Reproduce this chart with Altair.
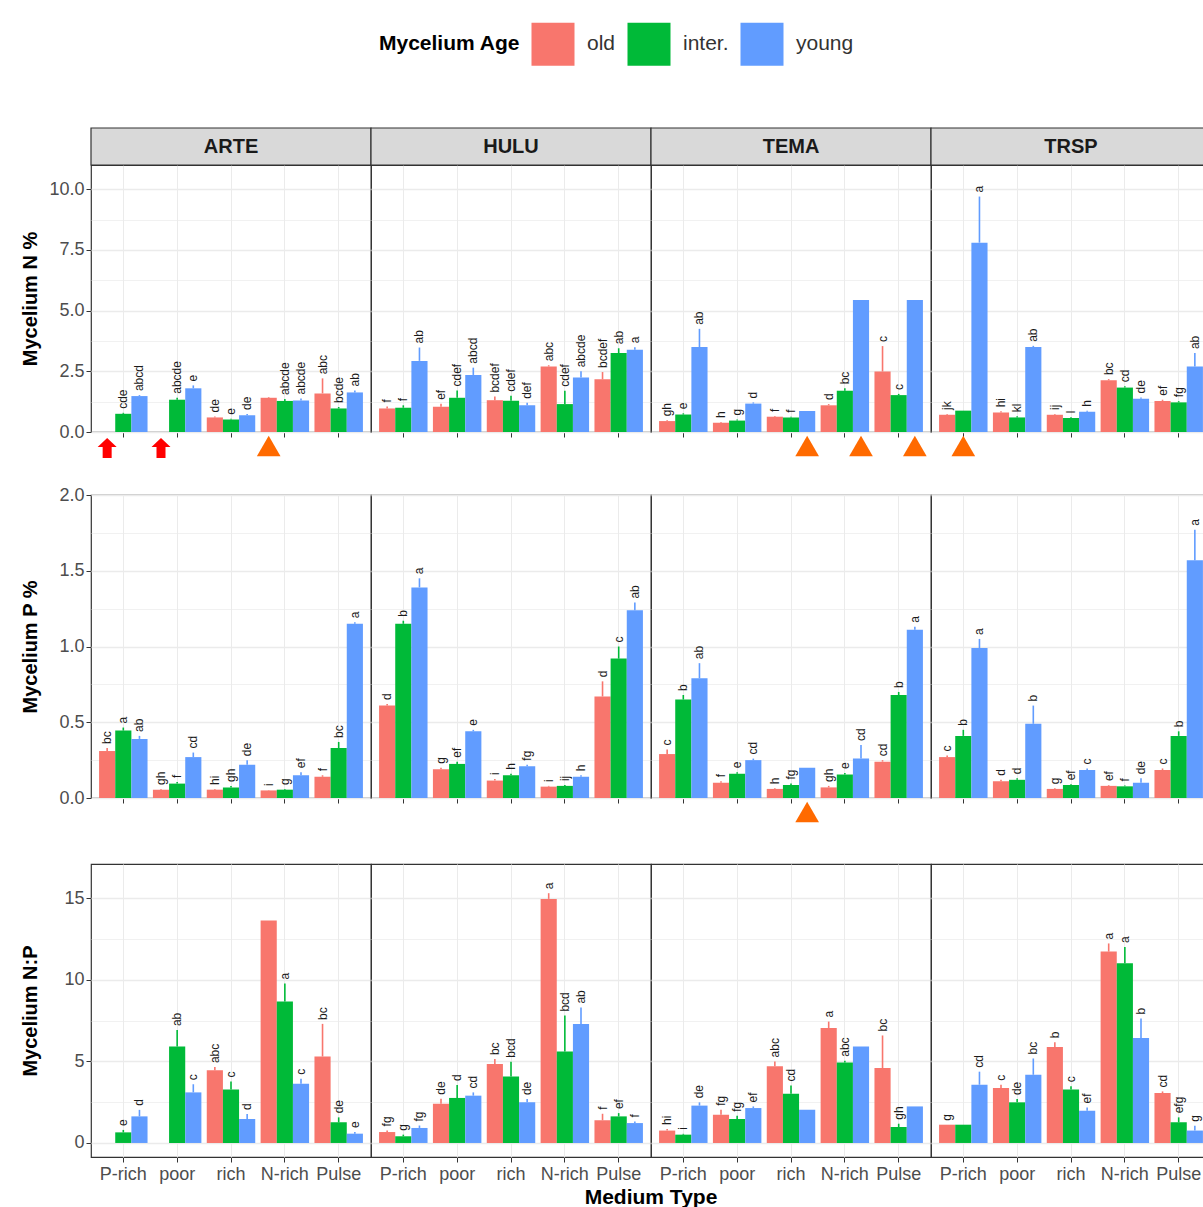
import altair as alt
import pandas as pd

SPECIES = ["ARTE", "HULU", "TEMA", "TRSP"]
MEDIA = ["P-rich", "poor", "rich", "N-rich", "Pulse"]
AGES = ["old", "inter.", "young"]
AGE_COLORS = ["#F8766D", "#00BA38", "#619CFF"]

# ---- Mycelium N % (mean, standard error, letter group), lists follow MEDIA order
N_MEAN = {
    "ARTE": {"old": [None, None, 0.60, 1.41, 1.59],
             "inter.": [0.75, 1.33, 0.51, 1.28, 0.97],
             "young": [1.48, 1.80, 0.69, 1.30, 1.63]},
    "HULU": {"old": [0.97, 1.04, 1.31, 2.70, 2.17],
             "inter.": [1.00, 1.41, 1.29, 1.15, 3.25],
             "young": [2.93, 2.35, 1.10, 2.25, 3.39]},
    "TEMA": {"old": [0.45, 0.38, 0.63, 1.10, 2.49],
             "inter.": [0.72, 0.47, 0.60, 1.70, 1.52],
             "young": [3.50, 1.17, 0.87, 5.44, 5.44]},
    "TRSP": {"old": [0.71, 0.80, 0.71, 2.13, 1.28],
             "inter.": [0.88, 0.60, 0.58, 1.83, 1.22],
             "young": [7.80, 3.50, 0.83, 1.37, 2.70]},
}
N_SE = {
    "ARTE": {"old": [0, 0, 0.04, 0.03, 0.62],
             "inter.": [0.04, 0.08, 0.04, 0.08, 0.06],
             "young": [0.04, 0.12, 0.05, 0.08, 0.08]},
    "HULU": {"old": [0.08, 0.12, 0.15, 0.05, 0.30],
             "inter.": [0.10, 0.30, 0.20, 0.55, 0.20],
             "young": [0.55, 0.30, 0.10, 0.25, 0.10]},
    "TEMA": {"old": [0.03, 0.03, 0.03, 0.05, 1.05],
             "inter.": [0.05, 0.05, 0.03, 0.10, 0.05],
             "young": [0.75, 0.05, 0, 0, 0]},
    "TRSP": {"old": [0.03, 0.05, 0.03, 0.05, 0.05],
             "inter.": [0, 0.05, 0.03, 0.05, 0.05],
             "young": [1.90, 0.05, 0.05, 0.05, 0.55]},
}
N_LAB = {
    "ARTE": {"old": [None, None, "de", None, "abc"],
             "inter.": ["cde", "abcde", "e", "abcde", "bcde"],
             "young": ["abcd", "e", "de", "abcde", "ab"]},
    "HULU": {"old": ["f", "ef", "bcdef", "abc", "bcdef"],
             "inter.": ["f", "cdef", "cdef", "cdef", "ab"],
             "young": ["ab", "abcd", "def", "abcde", "a"]},
    "TEMA": {"old": ["gh", "h", "f", "d", "c"],
             "inter.": ["e", "g", "f", "bc", "c"],
             "young": ["ab", "d", None, None, None]},
    "TRSP": {"old": ["jk", "hi", "ij", "bc", "ef"],
             "inter.": [None, "kl", "l", "cd", "fg"],
             "young": ["a", "ab", "h", "de", "ab"]},
}
N_FLAGS = {
    ("ARTE", "P-rich", "old"): "arrow",
    ("ARTE", "poor", "old"): "arrow",
    ("ARTE", "N-rich", "old"): "tri",
    ("TEMA", "rich", "young"): "tri",
    ("TEMA", "N-rich", "young"): "tri",
    ("TEMA", "Pulse", "young"): "tri",
    ("TRSP", "P-rich", "inter."): "tri",
}

# ---- Mycelium P %
P_MEAN = {
    "ARTE": {"old": [0.31, 0.055, 0.055, 0.05, 0.14],
             "inter.": [0.445, 0.095, 0.07, 0.055, 0.33],
             "young": [0.39, 0.27, 0.22, 0.15, 1.15]},
    "HULU": {"old": [0.61, 0.19, 0.115, 0.075, 0.67],
             "inter.": [1.15, 0.225, 0.15, 0.08, 0.92],
             "young": [1.39, 0.44, 0.21, 0.14, 1.24]},
    "TEMA": {"old": [0.29, 0.10, 0.06, 0.07, 0.24],
             "inter.": [0.65, 0.16, 0.085, 0.155, 0.68],
             "young": [0.79, 0.25, 0.20, 0.26, 1.11]},
    "TRSP": {"old": [0.27, 0.11, 0.06, 0.08, 0.185],
             "inter.": [0.41, 0.12, 0.085, 0.077, 0.41],
             "young": [0.99, 0.49, 0.185, 0.10, 1.57]},
}
P_SE = {
    "ARTE": {"old": [0.02, 0.005, 0.005, 0.003, 0.01],
             "inter.": [0.02, 0.01, 0.01, 0.005, 0.04],
             "young": [0.02, 0.03, 0.03, 0.02, 0.01]},
    "HULU": {"old": [0.01, 0.01, 0.01, 0.005, 0.10],
             "inter.": [0.02, 0.015, 0.01, 0.005, 0.08],
             "young": [0.06, 0.01, 0.01, 0.01, 0.05]},
    "TEMA": {"old": [0.03, 0.01, 0.005, 0.01, 0.01],
             "inter.": [0.03, 0.01, 0.01, 0.01, 0.02],
             "young": [0.10, 0.01, 0, 0.09, 0.02]},
    "TRSP": {"old": [0.01, 0.01, 0.005, 0.005, 0.01],
             "inter.": [0.04, 0.01, 0.005, 0.005, 0.03],
             "young": [0.06, 0.12, 0.01, 0.03, 0.20]},
}
P_LAB = {
    "ARTE": {"old": ["bc", "gh", "hi", "i", "f"],
             "inter.": ["a", "f", "gh", "g", "bc"],
             "young": ["ab", "cd", "de", "ef", "a"]},
    "HULU": {"old": ["d", "g", "i", "i", "d"],
             "inter.": ["b", "ef", "h", "ij", "c"],
             "young": ["a", "e", "fg", "h", "ab"]},
    "TEMA": {"old": ["c", "f", "h", "gh", "cd"],
             "inter.": ["b", "e", "fg", "e", "b"],
             "young": ["ab", "cd", None, "cd", "a"]},
    "TRSP": {"old": ["c", "d", "g", "ef", "c"],
             "inter.": ["b", "d", "ef", "f", "b"],
             "young": ["a", "b", "c", "de", "a"]},
}
P_FLAGS = {("TEMA", "rich", "young"): "tri"}

# ---- Mycelium N:P
NP_MEAN = {
    "ARTE": {"old": [None, None, 4.45, 13.63, 5.30],
             "inter.": [0.65, 5.92, 3.27, 8.67, 1.27],
             "young": [1.63, 3.10, 1.47, 3.63, 0.57]},
    "HULU": {"old": [0.67, 2.41, 4.84, 14.96, 1.39],
             "inter.": [0.41, 2.76, 4.08, 5.61, 1.63],
             "young": [0.92, 2.90, 2.49, 7.30, 1.22]},
    "TEMA": {"old": [0.76, 1.73, 4.70, 7.04, 4.59],
             "inter.": [0.51, 1.47, 3.02, 4.94, 0.98],
             "young": [2.29, 2.14, 2.04, 5.92, 2.24]},
    "TRSP": {"old": [1.12, 3.37, 5.88, 11.73, 3.06],
             "inter.": [1.12, 2.49, 3.27, 11.02, 1.27],
             "young": [3.57, 4.18, 1.98, 6.43, 0.76]},
}
NP_SE = {
    "ARTE": {"old": [0, 0, 0.20, 0, 2.00],
             "inter.": [0.15, 1.00, 0.50, 1.10, 0.30],
             "young": [0.40, 0.50, 0.30, 0.30, 0.10]},
    "HULU": {"old": [0.10, 0.30, 0.30, 0.35, 0.40],
             "inter.": [0.10, 0.80, 0.90, 2.20, 0.20],
             "young": [0.15, 0.20, 0.20, 1.00, 0.10]},
    "TEMA": {"old": [0.10, 0.30, 0.30, 0.40, 2.00],
             "inter.": [0.05, 0.20, 0.50, 0.10, 0.20],
             "young": [0.20, 0.10, 0, 0, 0]},
    "TRSP": {"old": [0, 0.20, 0.30, 0.50, 0.10],
             "inter.": [0, 0.20, 0.20, 1.00, 0.30],
             "young": [0.80, 1.00, 0.20, 1.20, 0.30]},
}
NP_LAB = {
    "ARTE": {"old": [None, None, "abc", None, "bc"],
             "inter.": ["e", "ab", "c", "a", "de"],
             "young": ["d", "c", "d", "c", "e"]},
    "HULU": {"old": ["fg", "de", "bc", "a", "f"],
             "inter.": ["g", "d", "bcd", "bcd", "ef"],
             "young": ["fg", "cd", "de", "ab", "f"]},
    "TEMA": {"old": ["hi", "fg", "abc", "a", "bc"],
             "inter.": ["i", "fg", "cd", "abc", "gh"],
             "young": ["de", "ef", None, None, None]},
    "TRSP": {"old": ["g", "c", "b", "a", "cd"],
             "inter.": [None, "de", "c", "a", "efg"],
             "young": ["cd", "bc", "ef", "b", "g"]},
}
NP_FLAGS = {}

# upward block arrow drawn inside the unit square
ARROW = "M0,-1 L0.95,-0.1 L0.45,-0.1 L0.45,1 L-0.45,1 L-0.45,-0.1 L-0.95,-0.1 Z"

W = 280
FONT = "Liberation Sans"


def frame(means, errs, labels, flags):
    rows = []
    for sp in SPECIES:
        for age in AGES:
            for i, med in enumerate(MEDIA):
                m = means[sp][age][i]
                e = errs[sp][age][i]
                rows.append({
                    "species": sp, "medium": med, "age": age,
                    "mean": m,
                    "top": None if m is None else m + e,
                    "lab": labels[sp][age][i] or "",
                    "flag": flags.get((sp, med, age), ""),
                })
    return pd.DataFrame(rows)


def panel_row(df, height, domain, major, minor, fmt, ytitle,
              strip=False, legend=False, xlabels=False):
    minor_js = "[" + ",".join(repr(v) for v in minor) + "]"
    is_minor = f"indexof({minor_js}, datum.value) >= 0"
    yscale = alt.Scale(domain=domain, nice=False, zero=False)
    yaxis = alt.Axis(
        title=ytitle, values=major + minor,
        labelExpr=f"{is_minor} ? '' : format(datum.value, '{fmt}')",
        gridWidth={"condition": {"test": is_minor, "value": 0.7}, "value": 1.4},
        tickOpacity={"condition": {"test": is_minor, "value": 0}, "value": 1},
        titleX=-50.5,
    )
    xaxis = alt.Axis(
        title=None, labels=xlabels, labelAngle=0, bandPosition=0.5, grid=True,
    )
    x = alt.X("medium:N", sort=MEDIA,
              scale=alt.Scale(domain=MEDIA, paddingInner=0.1, paddingOuter=0.15),
              axis=xaxis)
    xo = alt.XOffset("age:N", sort=AGES, scale=alt.Scale(domain=AGES))
    leg = alt.Legend(
        orient="none", legendX=288, legendY=-143, direction="horizontal",
        title="Mycelium Age", titleOrient="left", titleFontSize=21,
        titleFontWeight="bold", titleColor="#000000", titlePadding=10,
        labelFontSize=21, labelColor="#333333", labelOffset=12,
        symbolType="square", symbolSize=1850, symbolStrokeWidth=0,
        symbolOpacity=1, columnPadding=11,
    )
    color = alt.Color("age:N", sort=AGES,
                      scale=alt.Scale(domain=AGES, range=AGE_COLORS),
                      legend=leg if legend else None)

    def y(field):
        return alt.Y(field, scale=yscale, axis=yaxis)

    bars = alt.Chart().mark_bar().encode(
        x=x, xOffset=xo, y=y("mean:Q"), y2=alt.datum(0), color=color)
    errs = alt.Chart().mark_rule(strokeWidth=1.6).encode(
        x=x, xOffset=xo, y=y("mean:Q"), y2="top:Q", color=color)
    letters = alt.Chart().mark_text(
        angle=270, align="left", baseline="middle", dx=4,
        fontSize=12, color="#1a1a1a", font=FONT,
    ).encode(x=x, xOffset=xo, y=y("top:Q"), text="lab:N").transform_filter(
        "datum.lab != ''")
    tris = alt.Chart().mark_point(
        shape="triangle-up", filled=True, size=560, color="#FF6A00",
        opacity=1, yOffset=14,
    ).encode(x=x, xOffset=xo, y=y("zero:Q")).transform_filter(
        "datum.flag == 'tri'").transform_calculate(zero="0")
    arrows = alt.Chart().mark_point(
        shape=ARROW, filled=True, size=400, color="#FF0000",
        opacity=1, yOffset=16,
    ).encode(x=x, xOffset=xo, y=y("zero:Q")).transform_filter(
        "datum.flag == 'arrow'").transform_calculate(zero="0")

    layers = [bars, errs, letters, tris, arrows]
    if strip:
        first = "datum.medium == 'P-rich' && datum.age == 'old'"
        box = alt.Chart().mark_rect(
            fill="#d9d9d9", stroke="#333333", strokeWidth=1.2,
        ).encode(x=alt.value(0), x2=alt.value(W), y=alt.value(-37),
                 y2=alt.value(0)).transform_filter(first)
        name = alt.Chart().mark_text(
            fontSize=20, fontWeight="bold", color="#1a1a1a", font=FONT,
            baseline="middle",
        ).encode(x=alt.value(W / 2), y=alt.value(-18), text="species:N"
                 ).transform_filter(first)
        layers = [box, name] + layers

    if xlabels:
        column = alt.Column(
            "species:N", sort=SPECIES, title="Medium Type",
            header=alt.Header(labels=False, titleOrient="bottom",
                              titleFontSize=21, titleFontWeight="bold",
                              titleColor="#000000", titleFont=FONT,
                              titlePadding=-6),
        )
    else:
        column = alt.Column("species:N", sort=SPECIES, header=None)

    return alt.layer(*layers, data=df).properties(width=W, height=height).facet(
        column=column, spacing=0, bounds="flush")


row_n = panel_row(frame(N_MEAN, N_SE, N_LAB, N_FLAGS), 267, [0, 11],
                  [0, 2.5, 5, 7.5, 10], [1.25, 3.75, 6.25, 8.75], ".1f",
                  "Mycelium N %", strip=True, legend=True)
row_p = panel_row(frame(P_MEAN, P_SE, P_LAB, P_FLAGS), 303, [0, 2],
                  [0, 0.5, 1.0, 1.5, 2.0], [0.25, 0.75, 1.25, 1.75], ".1f",
                  "Mycelium P %")
row_np = panel_row(frame(NP_MEAN, NP_SE, NP_LAB, NP_FLAGS), 293, [-0.86, 17.1],
                   [0, 5, 10, 15], [2.5, 7.5, 12.5], "d",
                   "Mycelium N:P", xlabels=True)

chart = alt.vconcat(
    alt.vconcat(row_n, row_p, spacing=27), row_np, spacing=40
).resolve_scale(color="independent").properties(
    padding={"left": 20, "top": 22, "right": -10, "bottom": 0}
).configure(font=FONT, background="white").configure_view(
    stroke="#333333", strokeWidth=1.2
).configure_axis(
    labelFontSize=18, labelColor="#4d4d4d", tickColor="#333333", tickSize=5,
    domain=False, gridColor="#ebebeb", titleFontSize=20,
    titleFontWeight="bold", titleColor="#000000", labelPadding=2,
    labelFont=FONT, titleFont=FONT,
).configure_axisX(labelPadding=3)

chart.save("out.html", embed_options={"renderer": "svg", "actions": False})
